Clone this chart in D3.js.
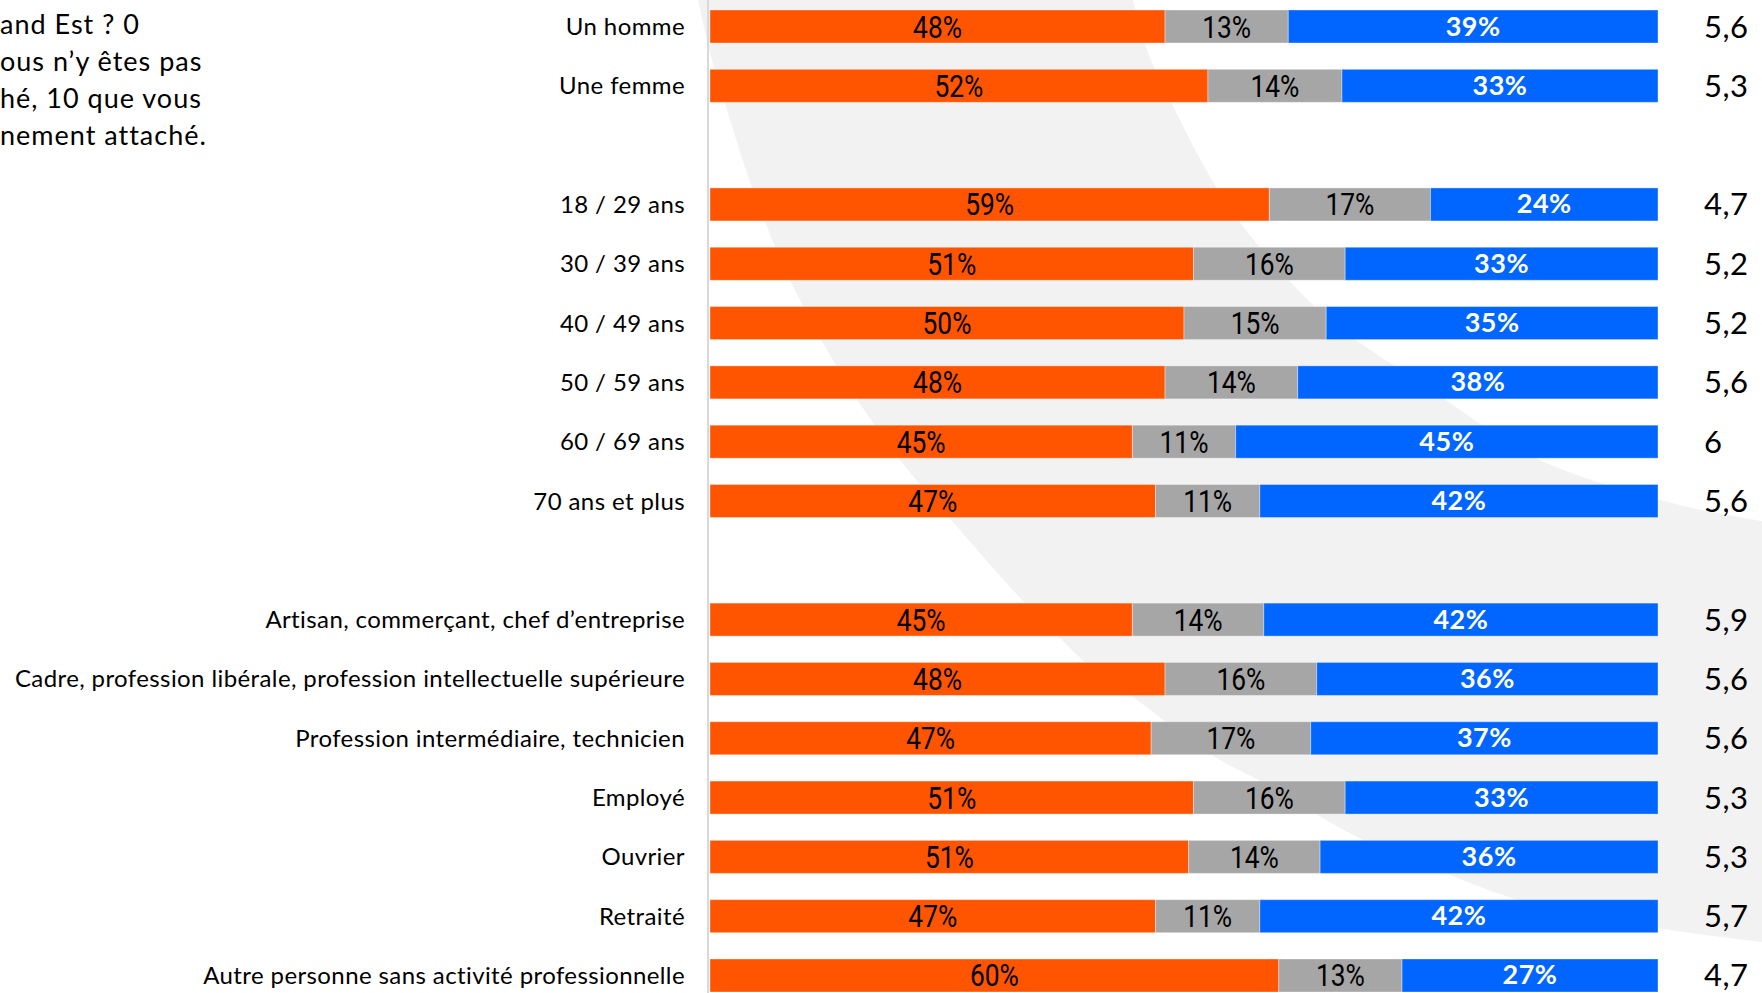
<!DOCTYPE html>
<html>
<head>
<meta charset="utf-8">
<script src="https://cdn.jsdelivr.net/npm/d3@7"></script>
<style>
  html, body { margin: 0; padding: 0; background: #ffffff; overflow: hidden; }
  svg { display: block; }
</style>
</head>
<body>
<svg id="chart" width="1762" height="993"></svg>
<script>
// ---------- DATA ----------
const categories = [
  "Un homme", "Une femme",
  "18 / 29 ans", "30 / 39 ans", "40 / 49 ans", "50 / 59 ans", "60 / 69 ans", "70 ans et plus",
  "Artisan, commerçant, chef d’entreprise",
  "Cadre, profession libérale, profession intellectuelle supérieure",
  "Profession intermédiaire, technicien",
  "Employé", "Ouvrier", "Retraité",
  "Autre personne sans activité professionnelle"
];
const groupSizes = [2, 6, 7];
const lowValues  = [48, 52, 59, 51, 50, 48, 45, 47, 45, 48, 47, 51, 51, 47, 60]; // orange
const midValues  = [13, 14, 17, 16, 15, 14, 11, 11, 14, 16, 17, 16, 14, 11, 13]; // grey
const highValues = [39, 33, 24, 33, 35, 38, 45, 42, 42, 36, 37, 33, 36, 42, 27]; // blue
const meanScores = [5.6, 5.3, 4.7, 5.2, 5.2, 5.6, 6, 5.6, 5.9, 5.6, 5.6, 5.3, 5.3, 5.7, 4.7];
const questionLines = ["and Est ? 0", "ous n’y êtes pas", "hé, 10 que vous", "nement attaché."];
const seriesKeys = ["low", "mid", "high"];
const seriesColors = ["#FF5500", "#A6A6A6", "#0066FF"];

// ---------- LAYOUT ----------
const W = 1762, H = 993;
const svg = d3.select("#chart");

// slot index for each category (a blank slot between groups)
const slots = [];
{
  let s = 0;
  groupSizes.forEach((g, gi) => {
    for (let k = 0; k < g; k++) slots.push(s++);
    if (gi < groupSizes.length - 1) s++;
  });
}
const nSlots = slots[slots.length - 1] + 1;

const rows = categories.map((c, i) => ({
  cat: c, slot: slots[i], low: lowValues[i], mid: midValues[i], high: highValues[i], score: meanScores[i]
}));

const y = d3.scaleBand().domain(d3.range(nSlots)).range([10, 992]).paddingInner(0.4436).paddingOuter(0);
const x = d3.scaleLinear().domain([0, 1]).range([710, 1658]);

// ---------- BACKGROUND DECORATION ----------
const upperEdge = [[1133,0],[1147,50],[1170,100],[1218,190],[1262,250],[1330,320],[1430,389],[1540,460],[1680,505],[1762,521]];
const lowerEdge = [[698,0],[712,60],[727,110],[753,190],[790,280],[845,380],[900,460],[947,515],[1022,600],[1059,637],[1086,663],[1133,697],[1215,757],[1262,782],[1363,840],[1445,873],[1519,900],[1658,928],[1762,942]];
const lineGen = d3.line().curve(d3.curveCatmullRom.alpha(0.5));
const upperPath = lineGen(upperEdge);
const lowerPath = lineGen(lowerEdge.slice().reverse());
svg.append("path")
  .attr("d", upperPath + "L1762,942" + lowerPath.replace(/^M/, "L") + "Z")
  .attr("fill", "#F2F2F2");

// vertical axis line
svg.append("line")
  .attr("x1", 708).attr("x2", 708).attr("y1", 0).attr("y2", H)
  .attr("stroke", "#D9D9D9").attr("stroke-width", 2);

// ---------- QUESTION TEXT (cut off at left) ----------
svg.append("g").selectAll("text").data(questionLines).join("text")
  .attr("x", 0)
  .attr("y", (d, i) => 34 + i * 37)
  .attr("font-family", "Lato, 'Open Sans', sans-serif")
  .attr("font-size", 27)
  .attr("letter-spacing", 1)
  .attr("fill", "#000")
  .text(d => d);

// ---------- BARS ----------
const stack = d3.stack().keys(seriesKeys).offset(d3.stackOffsetExpand);
const stacked = stack(rows);

const gBars = svg.append("g");
stacked.forEach((layer, li) => {
  gBars.append("g").selectAll("rect").data(layer).join("rect")
    .attr("x", d => x(d[0]))
    .attr("y", d => y(d.data.slot))
    .attr("width", d => x(d[1]) - x(d[0]))
    .attr("height", y.bandwidth())
    .attr("fill", seriesColors[li])
    .attr("stroke", "rgba(255,255,255,0.35)")
    .attr("stroke-width", 1);
});

// ---------- SEGMENT LABELS ----------
stacked.forEach((layer, li) => {
  const key = seriesKeys[li];
  const isBlue = key === "high";
  gBars.append("g").selectAll("text").data(layer).join("text")
    .attr("transform", d => {
      const cx = (x(d[0]) + x(d[1])) / 2;
      const cy = y(d.data.slot) + y.bandwidth() / 2 + (isBlue ? 9 : 11);
      return isBlue ? `translate(${cx},${cy})` : `translate(${cx},${cy}) scale(0.85,1)`;
    })
    .attr("text-anchor", "middle")
    .attr("font-family", isBlue ? "Lato, sans-serif" : "Roboto, sans-serif")
    .attr("font-weight", isBlue ? 700 : 400)
    .attr("font-size", isBlue ? 27 : 31)
    .attr("letter-spacing", isBlue ? 0.5 : 0)
    .attr("fill", isBlue ? "#FFFFFF" : "#000000")
    .text(d => d.data[key] + "%");
});

// ---------- CATEGORY LABELS ----------
svg.append("g").selectAll("text").data(rows).join("text")
  .attr("x", 685)
  .attr("y", d => y(d.slot) + y.bandwidth() / 2 + 8.5)
  .attr("text-anchor", "end")
  .attr("font-family", "Lato, 'Open Sans', sans-serif")
  .attr("font-size", 24)
  .attr("letter-spacing", 0.4)
  .attr("fill", "#000")
  .text(d => d.cat);

// ---------- MEAN SCORES ----------
const fmt = v => String(v).replace(".", ",");
svg.append("g").selectAll("text").data(rows).join("text")
  .attr("x", 1704)
  .attr("y", d => y(d.slot) + y.bandwidth() / 2 + 11)
  .attr("text-anchor", "start")
  .attr("font-family", "Lato, 'Open Sans', sans-serif")
  .attr("font-size", 31)
  .attr("letter-spacing", 0.5)
  .attr("fill", "#000")
  .text(d => fmt(d.score));
</script>
</body>
</html>
